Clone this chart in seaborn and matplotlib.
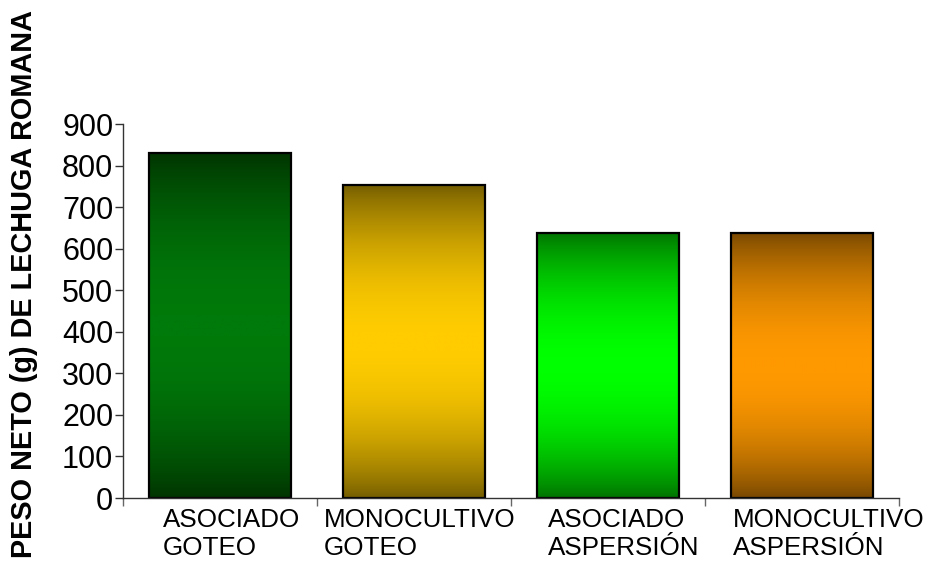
import numpy as np
import pandas as pd
import seaborn as sns
import matplotlib.pyplot as plt
from matplotlib.colors import LinearSegmentedColormap
from matplotlib.transforms import offset_copy

# Tratamientos y peso neto medio (g)
categorias = ["ASOCIADO\nGOTEO", "MONOCULTIVO\nGOTEO",
              "ASOCIADO\nASPERSIÓN", "MONOCULTIVO\nASPERSIÓN"]
peso_neto = [830, 753, 638, 638]

# Degradado vertical de cada barra: color de los extremos y color central
color_extremo = ["#003300", "#735c00", "#007000", "#754600"]
color_centro = ["#007a0a", "#ffcc00", "#00ff00", "#ff9900"]

# Desplazamiento horizontal (px) del inicio de cada etiqueta
desplaz_etiqueta = [-57, -90, -60, -69]

sns.set_theme(style="ticks")
plt.rcParams["font.family"] = ["Liberation Sans", "DejaVu Sans"]

fig = plt.figure(figsize=(9.32, 5.72), dpi=100)
ax = fig.add_axes([123 / 932, 74 / 572, 776 / 932, 374 / 572])

df = pd.DataFrame({"tratamiento": categorias, "peso": peso_neto})
sns.barplot(data=df, x="tratamiento", y="peso", hue="tratamiento",
            palette=color_centro, width=0.727, edgecolor="black",
            linewidth=1.6, legend=False, ax=ax)

barras = sorted(ax.patches, key=lambda p: p.get_x())
perfil = np.sin(np.pi * np.linspace(0, 1, 512)) ** 0.8
grad = perfil.reshape(-1, 1)
for barra, c0, c1 in zip(barras, color_extremo, color_centro):
    x0, y0 = barra.get_x(), barra.get_y()
    w, h = barra.get_width(), barra.get_height()
    cmap = LinearSegmentedColormap.from_list("grad", [c0, c1])
    ax.imshow(grad, cmap=cmap, vmin=0, vmax=1,
              extent=[x0, x0 + w, y0, y0 + h],
              aspect="auto", origin="lower", interpolation="bilinear",
              zorder=barra.get_zorder() - 0.5)
    barra.set_facecolor("none")

ax.set_xlim(-0.5, 3.5)
ax.set_ylim(0, 900)
ax.set_yticks(range(0, 901, 100))
ax.set_xticks(range(len(categorias)))
ax.set_xticklabels([])
ax.set_xticks(np.arange(-0.5, len(categorias), 1.0), minor=True)
ax.set_xlabel("")
ax.set_ylabel("")

sns.despine(ax=ax)
for lado in ("left", "bottom"):
    ax.spines[lado].set_color("#333333")
    ax.spines[lado].set_linewidth(1.0)
ax.tick_params(axis="y", direction="out", length=5.5, width=1.0,
               color="#333333", labelsize=22, pad=1.5, labelcolor="black")
ax.tick_params(axis="x", which="major", length=0)
ax.tick_params(axis="x", which="minor", direction="out", length=5.5,
               width=1.0, color="#666666")

trans = ax.get_xaxis_transform()
for i, (txt, dx) in enumerate(zip(categorias, desplaz_etiqueta)):
    t = offset_copy(trans, fig=fig, x=dx, y=-10, units="dots")
    ax.text(i, 0, txt, transform=t, ha="left", va="top",
            fontsize=18.7, color="black", linespacing=1.2)

fig.text(24 / 932, 1 - 284 / 572, "PESO NETO (g) DE LECHUGA ROMANA",
         rotation=90, ha="center", va="center", fontsize=20.8,
         fontweight="bold", color="black")

fig.savefig("out.png", dpi=100, facecolor="white")
